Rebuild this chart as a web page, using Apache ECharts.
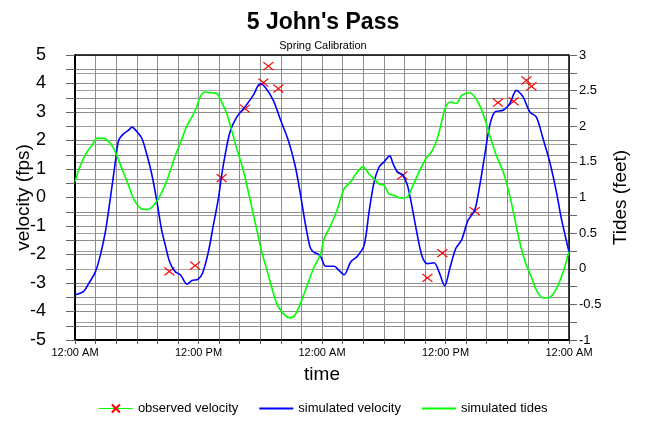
<!DOCTYPE html>
<html>
<head>
<meta charset="utf-8">
<script src="https://cdn.jsdelivr.net/npm/echarts@6/dist/echarts.min.js"></script>
<style>
  html, body { margin: 0; padding: 0; background: #fff; }
  #chart { width: 646px; height: 422px; }
</style>
</head>
<body>
<div id="chart"></div>
<script>
// Hours since midnight of day one, two days shown
const timeTickLabels = ['12:00 AM', '12:00 PM', '12:00 AM', '12:00 PM', '12:00 AM'];

// Simulated velocity (fps)
const simVelHours = [0, 0.84, 1.33, 1.98, 2.46, 2.95, 3.43, 3.92, 4.24, 4.73, 5.21, 5.54, 6.03, 6.51, 7.0, 7.48, 7.97, 8.39, 8.78, 9.2, 9.75, 10.24, 10.88, 11.37, 11.95, 12.4, 12.96, 13.44, 13.93, 14.25, 14.58, 15.06, 15.71, 16.52, 17.33, 17.98, 18.46, 19.27, 19.92, 20.73, 21.38, 21.87, 22.35, 22.84, 23.16, 23.65, 23.9, 24.36, 25.17, 25.66, 26.14, 26.79, 27.44, 28.09, 28.57, 29.06, 29.55, 30.03, 30.58, 30.9, 31.33, 31.81, 32.3, 32.78, 33.27, 33.75, 34.24, 34.89, 35.37, 35.93, 36.41, 37.0, 37.55, 38.19, 38.84, 39.33, 39.81, 40.3, 40.79, 41.6, 42.24, 42.89, 43.54, 44.19, 44.83, 45.48, 46.13, 46.78, 47.26, 48];
const simVelValues = [-3.41, -3.29, -3.02, -2.61, -2.03, -1.21, -0.04, 1.25, 2.0, 2.24, 2.36, 2.47, 2.30, 2.06, 1.48, 0.78, -0.16, -1.09, -1.68, -2.26, -2.61, -2.71, -3.04, -2.91, -2.87, -2.65, -1.91, -0.98, -0.04, 0.78, 1.48, 2.30, 2.82, 3.18, 3.59, 3.99, 3.88, 3.41, 2.77, 2.0, 1.13, 0.19, -0.86, -1.74, -1.91, -1.99, -2.09, -2.41, -2.41, -2.56, -2.71, -2.26, -2.06, -1.68, -0.51, 0.54, 1.07, 1.25, 1.46, 1.19, 0.89, 0.80, 0.43, -0.39, -1.33, -2.09, -2.32, -2.29, -2.61, -3.1, -2.50, -1.79, -1.50, -0.80, -0.45, 0.43, 1.48, 2.53, 3.0, 3.06, 3.29, 3.76, 3.53, 3.0, 2.82, 2.06, 1.25, 0.19, -0.74, -1.91];

// Simulated tides (feet)
const simTideHours = [0, 0.52, 1.17, 1.65, 2.14, 2.79, 3.43, 3.92, 4.57, 5.21, 5.70, 6.35, 7.0, 7.65, 8.45, 9.1, 9.75, 10.4, 10.88, 11.37, 11.82, 12.15, 12.63, 13.28, 13.77, 14.25, 14.74, 15.23, 15.71, 16.36, 16.84, 17.49, 18.14, 18.79, 19.6, 20.25, 20.89, 21.38, 22.03, 22.67, 23.16, 23.65, 23.9, 24.2, 24.85, 25.5, 26.14, 26.79, 27.28, 27.99, 28.57, 29.06, 29.55, 30.03, 30.51, 31.0, 31.65, 32.3, 32.78, 33.43, 34.08, 34.72, 35.21, 35.7, 35.98, 36.41, 37.06, 37.55, 38.36, 38.84, 39.33, 39.81, 40.3, 40.94, 41.6, 42.24, 42.73, 43.37, 43.86, 44.35, 44.83, 45.48, 46.13, 46.78, 47.42, 48];
const simTideValues = [1.22, 1.45, 1.64, 1.73, 1.83, 1.83, 1.76, 1.64, 1.40, 1.17, 0.98, 0.85, 0.83, 0.89, 1.08, 1.31, 1.59, 1.83, 2.01, 2.13, 2.27, 2.41, 2.48, 2.47, 2.46, 2.34, 2.18, 1.94, 1.69, 1.38, 1.08, 0.66, 0.24, -0.09, -0.49, -0.63, -0.69, -0.65, -0.44, -0.19, 0.0, 0.14, 0.22, 0.42, 0.61, 0.84, 1.12, 1.22, 1.33, 1.43, 1.33, 1.26, 1.19, 1.17, 1.05, 1.03, 0.99, 1.01, 1.15, 1.36, 1.54, 1.66, 1.83, 2.11, 2.26, 2.34, 2.32, 2.43, 2.47, 2.41, 2.29, 2.11, 1.87, 1.59, 1.36, 1.03, 0.70, 0.28, 0.05, -0.12, -0.30, -0.41, -0.40, -0.28, -0.05, 0.24];

// Observed velocity (fps)
const obsHours = [9.17, 11.67, 14.25, 16.52, 18.3, 18.79, 19.76, 31.81, 34.24, 35.7, 38.84, 41.1, 42.63, 43.86, 44.35];
const obsValues = [-2.59, -2.39, 0.68, 3.12, 4.03, 4.61, 3.82, 0.78, -2.82, -1.95, -0.48, 3.33, 3.37, 4.11, 3.90];

const pairs = (xs, ys) => xs.map((x, i) => [x, ys[i]]);

const FONT = '"Liberation Sans", Arial, sans-serif';
const GRID_COLOR = '#8c8c8c';

const chart = echarts.init(document.getElementById('chart'), null, { renderer: 'canvas' });

chart.setOption({
  animation: false,
  backgroundColor: '#ffffff',
  title: [
    {
      text: "5 John's Pass",
      left: 'center',
      top: 6,
      textStyle: { fontFamily: FONT, fontSize: 23, fontWeight: 'bold', color: '#000' }
    },
    {
      text: 'Spring Calibration',
      left: 'center',
      top: 35,
      textStyle: { fontFamily: FONT, fontSize: 11, fontWeight: 'normal', color: '#000' }
    }
  ],
  legend: {
    bottom: 2,
    left: 'center',
    itemWidth: 34,
    itemHeight: 10,
    itemGap: 20,
    textStyle: { fontFamily: FONT, fontSize: 13, color: '#000' },
    data: [
      { name: 'observed velocity', lineStyle: { color: '#00ff00', width: 1, opacity: 1 } },
      { name: 'simulated velocity', itemStyle: { opacity: 0 } },
      { name: 'simulated tides', itemStyle: { opacity: 0 } }
    ]
  },
  grid: { left: 75, right: 77, top: 55, bottom: 82, containLabel: false, outerBoundsMode: 'none' },
  xAxis: {
    type: 'value',
    min: 0,
    max: 48,
    interval: 2,
    name: 'time',
    nameLocation: 'middle',
    nameGap: 25,
    nameMoveOverlap: false,
    nameTextStyle: { fontFamily: FONT, fontSize: 19, color: '#000' },
    axisLine: { show: true, onZero: false, lineStyle: { color: '#000', width: 2 } },
    axisTick: { show: true, length: 4, lineStyle: { color: '#555' } },
    axisLabel: {
      fontFamily: FONT, fontSize: 11, color: '#000', margin: 7,
      formatter: v => (v % 12 === 0 ? timeTickLabels[v / 12] : '')
    },
    splitLine: { show: true, lineStyle: { color: GRID_COLOR, width: 1 } }
  },
  yAxis: [
    {
      type: 'value',
      min: -5,
      max: 5,
      interval: 0.5,
      name: 'velocity (fps)',
      nameLocation: 'middle',
      nameGap: 42,
      nameMoveOverlap: false,
      nameTextStyle: { fontFamily: FONT, fontSize: 19, color: '#000' },
      axisLine: { show: true, onZero: false, lineStyle: { color: '#000', width: 2 } },
      axisTick: { show: true, length: 9, lineStyle: { color: '#666' } },
      axisLabel: {
        fontFamily: FONT, fontSize: 18, color: '#000', margin: 29,
        formatter: v => (Number.isInteger(v) ? String(v) : '')
      },
      splitLine: { show: true, lineStyle: { color: GRID_COLOR, width: 1 } }
    },
    {
      type: 'value',
      min: -1,
      max: 3,
      interval: 0.25,
      name: 'Tides (feet)',
      nameLocation: 'middle',
      nameGap: 42,
      nameRotate: 90,
      nameMoveOverlap: false,
      nameTextStyle: { fontFamily: FONT, fontSize: 19, color: '#000' },
      axisLine: { show: true, onZero: false, lineStyle: { color: '#000', width: 1.5 } },
      axisTick: { show: true, length: 8, lineStyle: { color: '#666' } },
      axisLabel: {
        fontFamily: FONT, fontSize: 13, color: '#000', margin: 10,
        formatter: v => (Math.abs(v * 2 - Math.round(v * 2)) < 1e-9 ? String(v) : '')
      },
      splitLine: { show: true, lineStyle: { color: '#a0a0a0', width: 1 } }
    }
  ],
  series: [
    {
      name: 'observed velocity',
      type: 'line',
      yAxisIndex: 0,
      data: pairs(obsHours, obsValues),
      symbol: 'path://M0,0L10,8M10,0L0,8',
      symbolSize: [10, 8],
      showSymbol: true,
      lineStyle: { width: 0, opacity: 0, color: '#00ff00' },
      itemStyle: { color: '#ff0000', borderColor: '#ff0000', borderWidth: 1.2 },
      z: 3
    },
    {
      name: 'simulated velocity',
      type: 'line',
      yAxisIndex: 0,
      data: pairs(simVelHours, simVelValues),
      symbol: 'none',
      smooth: 0.3,
      lineStyle: { color: '#0000ff', width: 1.6 },
      itemStyle: { color: '#0000ff' },
      z: 4
    },
    {
      name: 'simulated tides',
      type: 'line',
      yAxisIndex: 1,
      data: pairs(simTideHours, simTideValues),
      symbol: 'none',
      smooth: 0.3,
      lineStyle: { color: '#00ff00', width: 1.6 },
      itemStyle: { color: '#00ff00' },
      z: 4
    }
  ],
  graphic: [
    {
      type: 'line',
      shape: { x1: 75, y1: 55, x2: 569, y2: 55 },
      style: { stroke: '#000', lineWidth: 1.5 },
      z: 10
    }
  ]
});
</script>
</body>
</html>
